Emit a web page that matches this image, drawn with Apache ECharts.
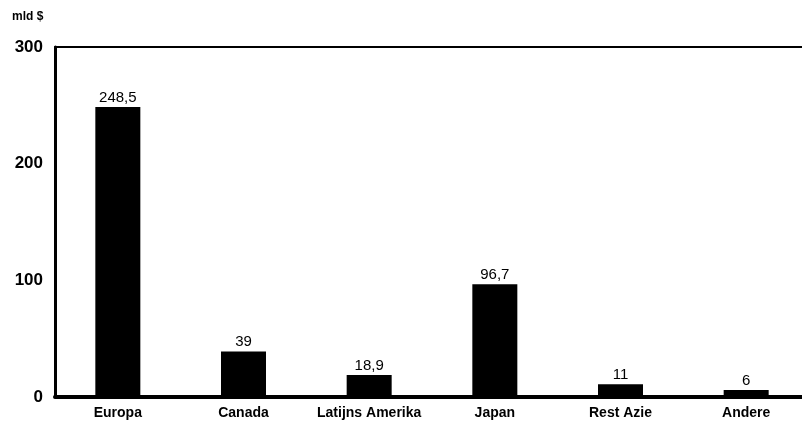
<!DOCTYPE html>
<html>
<head>
<meta charset="utf-8">
<script src="https://cdn.jsdelivr.net/npm/echarts@6/dist/echarts.min.js"></script>
<style>
  html, body { margin: 0; padding: 0; background: #fff; }
  #chart { width: 802px; height: 425px; }
</style>
</head>
<body>
<div id="chart"></div>
<script>
var categories = ['Europa', 'Canada', 'Latijns Amerika', 'Japan', 'Rest Azie', 'Andere']
var values = [248.5, 39, 18.9, 96.7, 11, 6]
var yTicks = [0, 100, 200, 300]

var myChart = echarts.init(document.getElementById('chart'))

var font = 'Arial, "Liberation Sans", sans-serif'

var option = {
  animation: false,
  textStyle: { fontFamily: font },
  graphic: [
    {
      type: 'text', left: 12, top: 11,
      style: { text: 'mld $', font: 'bold 12px ' + font, fill: '#000' }
    }
  ],
  grid: { left: 55, top: 47, width: 754, height: 350, outerBoundsMode: 'none' },
  xAxis: [
    {
      type: 'category',
      data: categories,
      axisLine: { lineStyle: { color: '#000', width: 4 } },
      axisTick: { show: false },
      axisLabel: { color: '#000', fontSize: 14, fontWeight: 'bold', margin: 9, interval: 0 }
    },
    {
      type: 'category',
      position: 'top',
      data: categories,
      axisLine: { lineStyle: { color: '#000', width: 2 } },
      axisTick: { show: false },
      axisLabel: { show: false }
    }
  ],
  yAxis: {
    type: 'value',
    min: yTicks[0],
    max: yTicks[yTicks.length - 1],
    interval: 100,
    axisLine: { show: true, lineStyle: { color: '#000', width: 3 } },
    axisTick: { show: false },
    splitLine: { show: false },
    axisLabel: { color: '#000', fontSize: 17, fontWeight: 'bold', margin: 12 }
  },
  series: [
    {
      type: 'bar',
      data: values,
      barWidth: 45,
      itemStyle: { color: '#000' },
      label: {
        show: true,
        position: 'top',
        distance: 2,
        color: '#000',
        fontSize: 15,
        formatter: function (p) { return String(p.value).replace('.', ',') }
      }
    }
  ]
}

myChart.setOption(option)
</script>
</body>
</html>
